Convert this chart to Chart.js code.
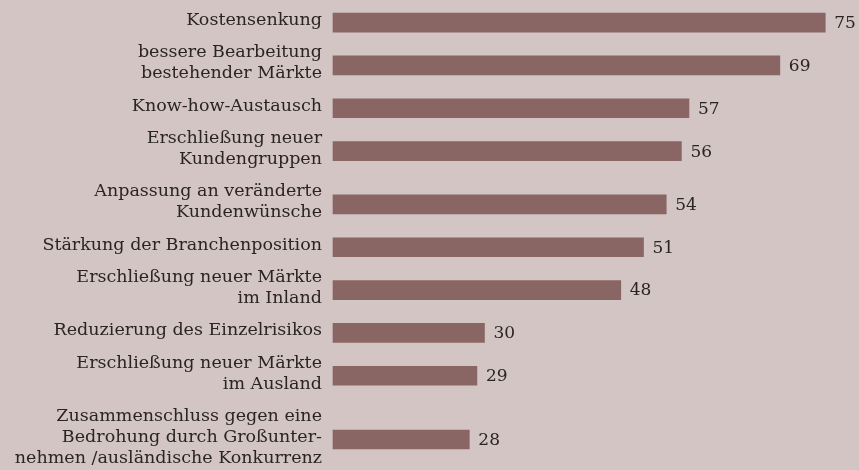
<!DOCTYPE html>
<html>
<head>
<meta charset="utf-8">
<script src="https://cdn.jsdelivr.net/npm/chart.js@4"></script>
<style>
  body { margin: 0; background: #d3c5c4; }
  #wrap { width: 859px; height: 470px; }
</style>
</head>
<body>
<div id="wrap"><canvas id="motive"></canvas></div>
<script>
// Gründe / Motive, Angaben in Prozent
const labels = [
    ['Kostensenkung'],
    ['bessere Bearbeitung', 'bestehender Märkte'],
    ['Know-how-Austausch'],
    ['Erschließung neuer', 'Kundengruppen'],
    ['Anpassung an veränderte', 'Kundenwünsche'],
    ['Stärkung der Branchenposition'],
    ['Erschließung neuer Märkte', 'im Inland'],
    ['Reduzierung des Einzelrisikos'],
    ['Erschließung neuer Märkte', 'im Ausland'],
    ['Zusammenschluss gegen eine', 'Bedrohung durch Großunter-', 'nehmen /ausländische Konkurrenz']
];
const values = [75, 69, 57, 56, 54, 51, 48, 30, 29, 28];

// Abstand der Balken richtet sich nach der Zeilenzahl der Beschriftung
const gap = 0.55;
const slots = [0];
for (let i = 1; i < labels.length; i++) {
    slots.push(slots[i - 1] + (labels[i - 1].length + labels[i].length) / 2 + gap);
}

const fontFam = '"DejaVu Serif", serif';
const textCol = '#2a2424';

const valueLabels = {
    id: 'valueLabels',
    afterDatasetsDraw(chart) {
        const c = chart.ctx;
        const meta = chart.getDatasetMeta(0);
        c.save();
        c.font = '17px ' + fontFam;
        c.fillStyle = textCol;
        c.textBaseline = 'middle';
        c.textAlign = 'left';
        meta.data.forEach((bar, i) => {
            c.fillText(values[i], bar.x + 9, bar.y + 1);
        });
        c.restore();
    }
};

new Chart(document.getElementById('motive'), {
    type: 'bar',
    data: {
        datasets: [{
            data: values.map((v, i) => ({ x: v, y: slots[i] })),
            backgroundColor: '#896664',
            barThickness: 19,
            base: 10,
            clip: false
        }]
    },
    options: {
        indexAxis: 'y',
        responsive: true,
        maintainAspectRatio: false,
        animation: false,
        layout: { padding: { right: 11 } },
        plugins: { legend: { display: false }, tooltip: { enabled: false } },
        scales: {
            x: {
                type: 'linear',
                min: 10,
                max: 78,
                display: false
            },
            y: {
                type: 'linear',
                reverse: true,
                offset: false,
                min: slots[0] - 1.08,
                max: slots[slots.length - 1] + 1.46,
                grid: { display: false, drawTicks: false, offset: false },
                border: { display: false },
                afterBuildTicks(axis) {
                    axis.ticks = slots.map(v => ({ value: v }));
                },
                afterFit(axis) {
                    axis.width = 333;
                    axis.paddingTop = 0;
                    axis.paddingBottom = 0;
                },
                ticks: {
                    autoSkip: false,
                    padding: 11,
                    labelOffset: -2,
                    color: textCol,
                    font: { family: fontFam, size: 17.5, lineHeight: '21px' },
                    callback: (value, index) => labels[index]
                }
            }
        }
    },
    plugins: [valueLabels]
});
</script>
</body>
</html>
